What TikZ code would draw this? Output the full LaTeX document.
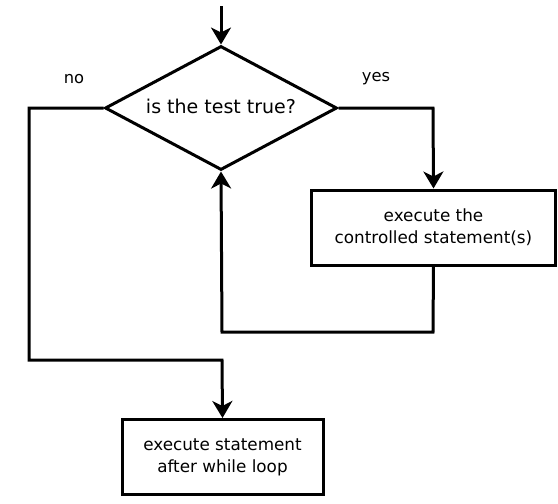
\documentclass[tikz,border=0pt]{standalone}
\usepackage{fontspec}
\setmainfont{DejaVu Sans}
\usetikzlibrary{arrows.meta,shapes.geometric}
\begin{document}
\begin{tikzpicture}[x=1pt,y=-1pt,
  line/.style={line width=3pt,line join=miter},
  arr/.style={line, -{Stealth[length=17pt,width=20pt,inset=5pt]}},
  boxnode/.style={draw,line width=3pt,minimum width=#1,minimum height=75pt,align=center,inner sep=0pt,font=\fontsize{16.8}{22}\selectfont},
  lbl/.style={font=\fontsize{16.3}{18}\selectfont}]
\useasboundingbox[fill=white] (0,0) rectangle (558,504);
\coordinate (start) at (221,6);
\node[draw,line width=3pt,diamond,aspect=1.87,minimum width=232pt,minimum height=124pt,inner sep=0pt] (dec) at (221,108) {};
\node[font=\fontsize{19}{22}\selectfont] at (221,106) {is the test true?};
\node[boxnode=244pt] (body) at (433.5,227.5) {execute the\\controlled statement(s)};
\node[boxnode=201pt] (after) at (222.5,457) {execute statement\\after while loop};
\node[lbl] (no) at (74,79) {no};
\node[lbl] (yes) at (376,79) {yes};
\coordinate (yc) at (433,108);
\coordinate (lb) at (433,332);
\coordinate (lc) at (222,332);
\coordinate (nc) at (29,108);
\coordinate (nd) at (29,360);
\coordinate (ne) at (222,360);
\draw[arr] (start) -- (dec.north);
\draw[arr] (dec.east) -- (yc) -- (body.north);
\draw[arr] (body.south) -- (lb) -- (lc) -- (dec.south);
\draw[arr] (dec.west) -- (nc) -- (nd) -- (ne) -- (after.north);
\end{tikzpicture}
\end{document}
